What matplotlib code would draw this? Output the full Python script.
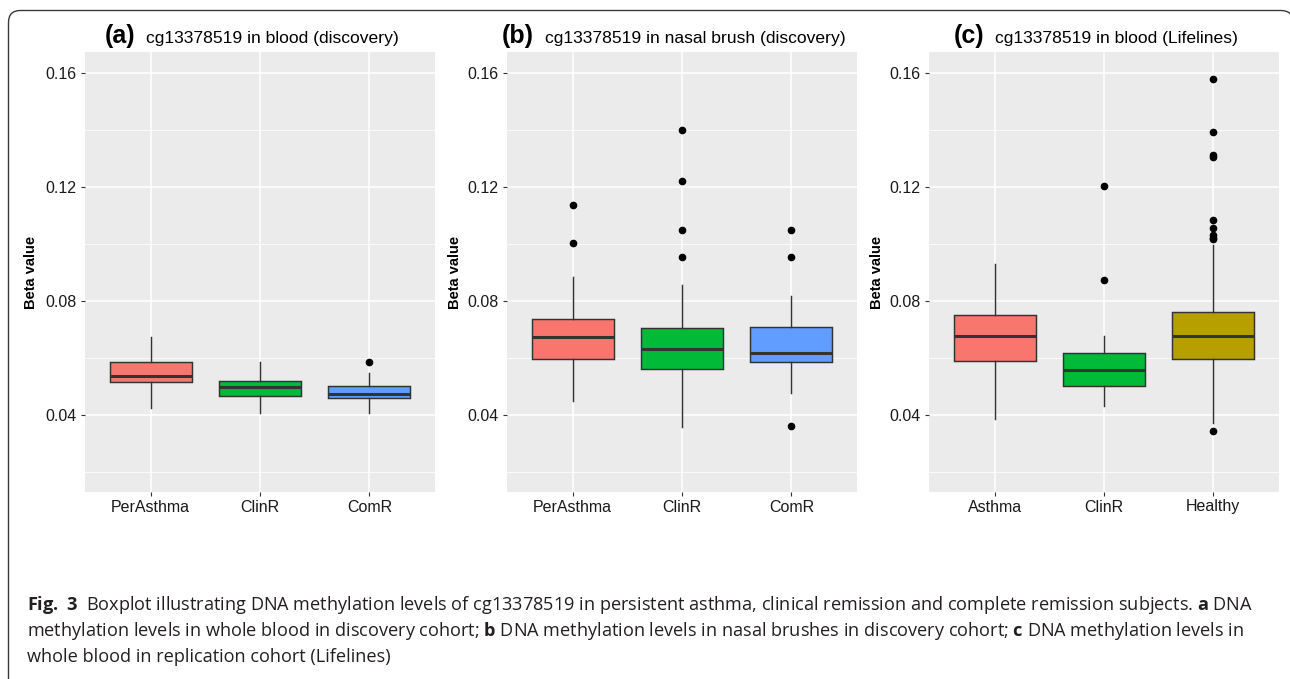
import matplotlib
matplotlib.use("Agg")
import matplotlib.pyplot as plt
from matplotlib.path import Path
from matplotlib.patches import PathPatch
from matplotlib.ticker import MultipleLocator, FormatStrFormatter

W, H, DPI = 1290, 679, 100

# ---------------- data ----------------
cats_a = ["PerAsthma", "ClinR", "ComR"]
a_whislo = [0.0422, 0.0407, 0.0407]
a_q1 = [0.0515, 0.0467, 0.0458]
a_med = [0.0536, 0.0497, 0.0473]
a_q3 = [0.0586, 0.0519, 0.0502]
a_whishi = [0.0674, 0.0586, 0.0545]
a_fliers = [[], [], [0.0586]]

cats_b = ["PerAsthma", "ClinR", "ComR"]
b_whislo = [0.0447, 0.0358, 0.0475]
b_q1 = [0.0597, 0.0559, 0.0584]
b_med = [0.0672, 0.0629, 0.0615]
b_q3 = [0.0735, 0.0704, 0.0707]
b_whishi = [0.0884, 0.0855, 0.0817]
b_fliers = [[0.1136, 0.1001], [0.1399, 0.1220, 0.1048, 0.0952], [0.1048, 0.0952, 0.0359]]

cats_c = ["Asthma", "ClinR", "Healthy"]
c_whislo = [0.0386, 0.0429, 0.0372]
c_q1 = [0.0589, 0.0502, 0.0597]
c_med = [0.0676, 0.0556, 0.0675]
c_q3 = [0.0750, 0.0618, 0.0761]
c_whishi = [0.0929, 0.0676, 0.0995]
c_fliers = [[], [0.1201, 0.0874],
            [0.1578, 0.1392, 0.1310, 0.1305, 0.1084, 0.1055, 0.1029, 0.1020, 0.1015, 0.0343]]

panel_tags = ["(a)", "(b)", "(c)"]
panel_titles = ["cg13378519 in blood (discovery)",
                "cg13378519 in nasal brush (discovery)",
                "cg13378519 in blood (Lifelines)"]
colors_a = ["#F8766D", "#00BA38", "#619CFF"]
colors_b = ["#F8766D", "#00BA38", "#619CFF"]
colors_c = ["#F8766D", "#00BA38", "#B79F00"]
ylabel = "Beta value"

caption_lines = [
    r"$\mathbf{Fig.\ 3}$  Boxplot illustrating DNA methylation levels of cg13378519 in persistent asthma, "
    r"clinical remission and complete remission subjects. $\mathbf{a}$ DNA",
    r"methylation levels in whole blood in discovery cohort; $\mathbf{b}$ DNA methylation levels in nasal "
    r"brushes in discovery cohort; $\mathbf{c}$ DNA methylation levels in",
    r"whole blood in replication cohort (Lifelines)",
]

# ---------------- style ----------------
plt.rcParams['font.family'] = ['Liberation Sans', 'DejaVu Sans']
plt.rcParams['mathtext.fontset'] = 'custom'
plt.rcParams['mathtext.rm'] = 'Open Sans'
plt.rcParams['mathtext.bf'] = 'Open Sans:bold'
plt.rcParams['mathtext.it'] = 'Open Sans:italic'

fig = plt.figure(figsize=(W / DPI, H / DPI), dpi=DPI)
fig.patch.set_facecolor("white")

# frame (rounded top corners; right edge falls just outside the image)
fax = fig.add_axes([0, 0, 1, 1], zorder=-5)
fax.set_xlim(0, W)
fax.set_ylim(H, 0)
fax.axis("off")
r = 12
xl, xr, yt = 8.5, 1293, 10.5
verts = [(xl, H + 2), (xl, yt + r), (xl, yt), (xl + r, yt),
         (xr - r, yt), (xr, yt), (xr, yt + r), (xr, H + 2)]
codes = [Path.MOVETO, Path.LINETO, Path.CURVE3, Path.CURVE3,
         Path.LINETO, Path.CURVE3, Path.CURVE3, Path.LINETO]
fax.add_patch(PathPatch(Path(verts, codes), facecolor="none", edgecolor="#3a3a3a", lw=1.0))


def px_axes(left, top, right, bottom):
    return fig.add_axes([left / W, 1 - bottom / H, (right - left) / W, (bottom - top) / H])


panels = [
    (85, 435, cats_a, a_whislo, a_q1, a_med, a_q3, a_whishi, a_fliers, colors_a, 38),
    (507, 857, cats_b, b_whislo, b_q1, b_med, b_q3, b_whishi, b_fliers, colors_b, 462),
    (929, 1279, cats_c, c_whislo, c_q1, c_med, c_q3, c_whishi, c_fliers, colors_c, 884),
]
TOP, BOT = 52, 492
txtcol = "#1a1a1a"
for (l, rr, cats, wlo, q1, med, q3, whi, fl, cols, ylab_right) in panels:
    ax = px_axes(l, TOP, rr, BOT)
    ax.set_facecolor("#EBEBEB")
    stats = [dict(whislo=wlo[i], q1=q1[i], med=med[i], q3=q3[i], whishi=whi[i], fliers=fl[i])
             for i in range(len(cats))]
    pos = list(range(1, len(cats) + 1))
    bp = ax.bxp(stats, positions=pos, widths=0.75, patch_artist=True, showcaps=False,
                boxprops=dict(edgecolor="#333333", linewidth=1.05),
                whiskerprops=dict(color="#333333", linewidth=1.05),
                medianprops=dict(color="#333333", linewidth=2.2, solid_capstyle="butt"),
                flierprops=dict(marker="o", markerfacecolor="black", markeredgecolor="black",
                                markersize=4.5, linestyle="none"),
                zorder=3, manage_ticks=False)
    for patch, c in zip(bp["boxes"], cols):
        patch.set_facecolor(c)
    ax.set_xlim(0.4, len(cats) + 0.6)
    ax.set_ylim(0.0129, 0.1672)
    ax.set_xticks(pos)
    ax.set_xticklabels(cats, fontsize=11.5, color=txtcol)
    ax.yaxis.set_major_locator(MultipleLocator(0.04))
    ax.yaxis.set_minor_locator(MultipleLocator(0.02))
    ax.yaxis.set_major_formatter(FormatStrFormatter("%.2f"))
    ax.tick_params(axis="both", which="major", length=2.9, width=0.8, color="#333333",
                   labelsize=11.5, labelcolor=txtcol, pad=3)
    ax.tick_params(axis="x", which="major", pad=2.5)
    ax.tick_params(axis="y", which="minor", length=0)
    ax.set_axisbelow(True)
    ax.grid(which="major", color="white", linewidth=1.1)
    ax.grid(which="minor", axis="y", color="white", linewidth=0.55)
    for s in ax.spines.values():
        s.set_visible(False)
    ax.set_ylabel(ylabel, fontsize=10.5, fontweight="bold", color="black")
    ax.yaxis.set_label_coords((ylab_right - l) / (rr - l), 0.5)

# ---------------- titles ----------------
renderer = fig.canvas.get_renderer()
TITLE_BASE = 43
for (l, rr, *_), tag, title in zip(panels, panel_tags, panel_titles):
    t1 = fig.text(0, 1 - TITLE_BASE / H, tag, fontsize=18, fontweight="bold", va="baseline", ha="left")
    t2 = fig.text(0, 1 - TITLE_BASE / H, title, fontsize=12.6, va="baseline", ha="left")
    w1 = t1.get_window_extent(renderer).width
    w2 = t2.get_window_extent(renderer).width
    gap = 11
    cx = (l + rr) / 2 - 8
    x0 = cx - (w1 + gap + w2) / 2
    t1.set_x(x0 / W)
    t2.set_x((x0 + w1 + gap) / W)

# ---------------- caption ----------------
cap_left, cap_right = 27, 1258
base_ys = [610, 636, 662]
probe = fig.text(0, 0, caption_lines[0], fontsize=10, fontfamily="Open Sans")
wprobe = probe.get_window_extent(renderer).width
probe.remove()
cap_fs = 10 * (cap_right - cap_left) / wprobe
for line, by in zip(caption_lines, base_ys):
    fig.text(cap_left / W, 1 - by / H, line, fontsize=cap_fs, fontfamily="Open Sans",
             va="baseline", ha="left", color="#231f20")

fig.savefig("out.png", dpi=DPI)
